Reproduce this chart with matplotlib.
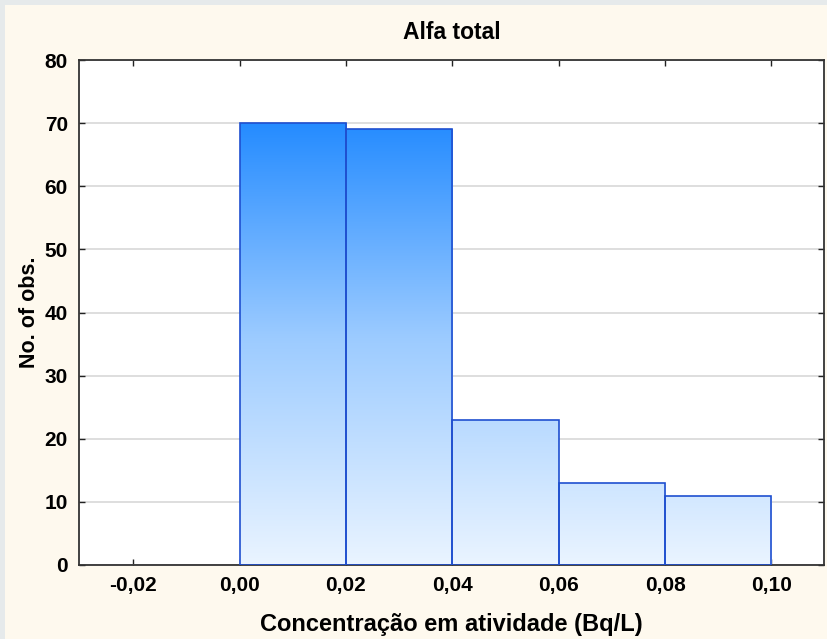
import matplotlib
matplotlib.use("Agg")
import matplotlib.pyplot as plt
import numpy as np
from matplotlib.colors import LinearSegmentedColormap
from matplotlib.patches import Rectangle

plt.rcParams['font.family'] = ['Liberation Sans', 'DejaVu Sans']
plt.rcParams['font.weight'] = 'bold'

# histogram data
bin_edges = [0.00, 0.02, 0.04, 0.06, 0.08, 0.10]
counts = [70, 69, 23, 13, 11]
x_ticks = [-0.02, 0.00, 0.02, 0.04, 0.06, 0.08, 0.10]
y_ticks = [0, 10, 20, 30, 40, 50, 60, 70, 80]

fig = plt.figure(figsize=(8.27, 6.39), dpi=100)
fig.patch.set_facecolor('#FEF9EE')
# thin grey frame on top and left, like the screenshot
fig.patches.append(Rectangle((0, 0), 5 / 827, 1, transform=fig.transFigure,
                             facecolor='#E6EAEB', edgecolor='none', zorder=-10))
fig.patches.append(Rectangle((0, 1 - 5 / 639), 1, 5 / 639, transform=fig.transFigure,
                             facecolor='#E6EAEB', edgecolor='none', zorder=-10))

ax = fig.add_axes([79 / 827, 74 / 639, 745 / 827, 505 / 639])
ax.set_facecolor('white')

cmap = LinearSegmentedColormap.from_list('blu', ['#EAF4FF', '#9CCBFF', '#1E88FF'])
grad = np.linspace(0, 1, 256).reshape(-1, 1)

widths = np.diff(bin_edges)
bars = ax.bar(bin_edges[:-1], counts, width=widths, align='edge',
              facecolor='none', edgecolor='#1F4FCF', linewidth=1.2, zorder=3)
for b in bars:
    im = ax.imshow(grad, cmap=cmap, origin='lower', aspect='auto',
                   extent=[-0.0302, 0.1099, 0, 72], zorder=2)
    im.set_clip_path(b)
ax.set_xlim(-0.0302, 0.1099)
ax.set_ylim(0, 80)

ax.set_yticks(y_ticks)
ax.set_xticks(x_ticks)
ax.set_xticklabels([f'{v:.2f}'.replace('.', ',') for v in x_ticks])
ax.yaxis.grid(True, color='#D8D8D8', linewidth=1.2, zorder=1)
ax.set_axisbelow(True)
ax.tick_params(direction='in', length=4, width=1, top=True, right=True,
               labelsize=15, colors='#222222', labelcolor='black', pad=8)
for s in ax.spines.values():
    s.set_color('#333333')
    s.set_linewidth(1.3)

ax.set_title('Alfa total', fontsize=16.5, fontweight='bold', pad=15)
ax.set_xlabel('Concentração em atividade (Bq/L)', fontsize=17, fontweight='bold', labelpad=13)
ax.set_ylabel('No. of obs.', fontsize=15.5, fontweight='bold', labelpad=3)

fig.savefig('out.png', dpi=100, facecolor=fig.get_facecolor())
